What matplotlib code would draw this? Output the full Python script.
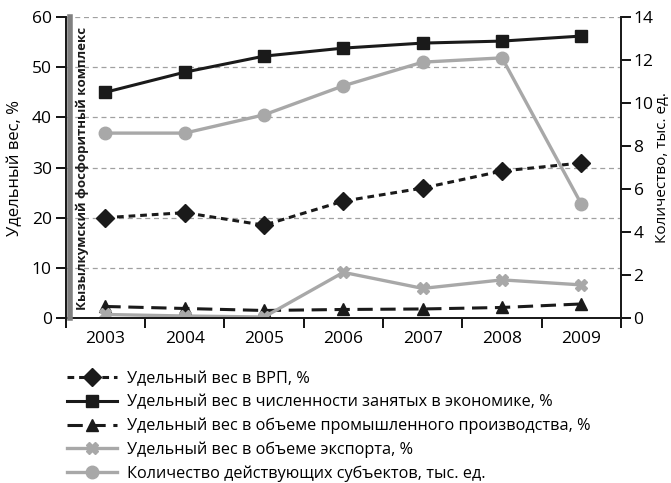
import numpy as np
import matplotlib
matplotlib.use("Agg")
import matplotlib.pyplot as plt
from matplotlib.lines import Line2D

plt.rcParams['font.family'] = ['Open Sans', 'DejaVu Sans']

years = ['2003', '2004', '2005', '2006', '2007', '2008', '2009']
vrp = [20.0, 21.0, 18.5, 23.3, 25.9, 29.3, 30.9]
employed = [45.0, 49.0, 52.2, 53.8, 54.8, 55.2, 56.2]
industry = [2.3, 1.9, 1.5, 1.7, 1.8, 2.1, 2.8]
export = [0.7, 0.4, 0.2, 9.1, 5.9, 7.6, 6.6]
entities = [8.6, 8.6, 9.45, 10.8, 11.9, 12.1, 5.3]

labels = ['Удельный вес в ВРП, %',
          'Удельный вес в численности занятых в экономике, %',
          'Удельный вес в объеме промышленного производства, %',
          'Удельный вес в объеме экспорта, %',
          'Количество действующих субъектов, тыс. ед.']

black = '#1a1a1a'
gray = '#a8a8a8'

fig = plt.figure(figsize=(6.71, 4.83), dpi=100)
ax = fig.add_axes([0.098, 0.3416, 0.8275, 0.6232])
ax2 = ax.twinx()

x = np.arange(len(years))

h1, = ax.plot(x, vrp, color=black, lw=2.2, ls=(0, (2.2, 1.6)), marker='D', ms=9, label=labels[0])
h2, = ax.plot(x, employed, color=black, lw=2.2, marker='s', ms=9, label=labels[1])
h3, = ax.plot(x, industry, color=black, lw=2.2, ls=(0, (5, 2.5)), marker='^', ms=9, label=labels[2])
h4, = ax.plot(x, export, color=gray, lw=2.4, marker='X', ms=9, label=labels[3])
h5, = ax2.plot(x, entities, color=gray, lw=2.4, marker='o', ms=9, label=labels[4])

ax.set_xlim(-0.5, len(years) - 0.5)
ax.set_ylim(0, 60)
ax2.set_ylim(0, 14)
ax.set_yticks(range(0, 61, 10))
ax2.set_yticks(range(0, 15, 2))

ax.set_xticks(np.arange(-0.5, len(years), 1))
ax.set_xticklabels([])
ax.set_xticks(x, minor=True)
ax.set_xticklabels(years, minor=True)
ax.tick_params(axis='x', which='minor', length=0, pad=9, labelsize=12.5)
ax.tick_params(axis='x', which='major', length=7, width=1.3, direction='out')
ax.tick_params(axis='y', length=7, width=1.3, direction='out', labelsize=12.5, pad=3)
ax2.tick_params(axis='y', length=7, width=1.3, direction='out', labelsize=12.5, pad=2)

ax.yaxis.grid(True, color='#a0a0a0', ls=(0, (4, 3)), lw=0.9)
ax.set_axisbelow(True)

for a in (ax, ax2):
    a.spines['top'].set_visible(False)
    for s in ('left', 'right', 'bottom'):
        a.spines[s].set_linewidth(1.3)
        a.spines[s].set_color(black)

ax.set_ylabel('Удельный вес, %', fontsize=12, labelpad=6)
ax2.set_ylabel('Количество, тыс. ед.', fontsize=11, labelpad=1)

# grey band with the group label along the left axis
fig.add_artist(Line2D([0.1045, 0.1045], [0.3416, 0.9648], color='#808080', lw=4))
fig.text(0.123, 0.652, 'Кызылкумский фосфоритный комплекс', rotation=90,
         ha='center', va='center', fontsize=9.5, fontweight='bold', color=black)

fig.legend(handles=[h1, h2, h3, h4, h5], loc='upper left', bbox_to_anchor=(0.09, 0.245),
           frameon=False, fontsize=11.7, handlelength=3.1, handletextpad=0.6,
           labelspacing=0.45, numpoints=1, borderaxespad=0)

fig.savefig('out.png', dpi=100)
